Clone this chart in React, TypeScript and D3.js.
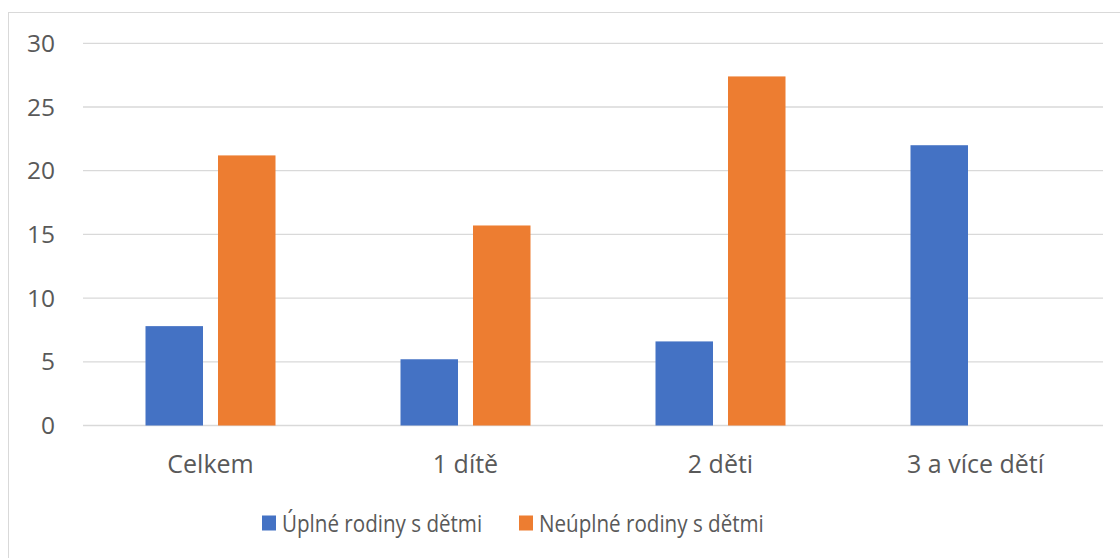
import React from 'react';
import * as d3 from 'd3';

// Categories and series values
const categories = ["Celkem", "1 dítě", "2 děti", "3 a více dětí"];
const seriesNames = ["Úplné rodiny s dětmi", "Neúplné rodiny s dětmi"];
const uplne = [7.8, 5.2, 6.6, 22.0];
const neuplne: (number | null)[] = [21.2, 15.7, 27.4, null];
const yTicks = [0, 5, 10, 15, 20, 25, 30];

const colors = ["#4472C4", "#ED7D31"];
const textColor = "#595959";
const gridColor = "#D9D9D9";
const font = "'Open Sans', 'Noto Sans', sans-serif";

const W = 1120;
const H = 558;
const margin = { top: 43.3, right: 17, bottom: 132.5, left: 83 };

const App = () => {
  const x = d3.scaleBand<string>()
    .domain(categories)
    .range([margin.left, W - margin.right]);

  const y = d3.scaleLinear()
    .domain([0, 30])
    .range([H - margin.bottom, margin.top]);

  const bw = x.bandwidth();
  const groupW = 130;
  const x1 = d3.scaleBand<string>()
    .domain(seriesNames)
    .range([bw / 2 - groupW / 2, bw / 2 + groupW / 2])
    .paddingInner(0.207);

  const seriesValues = [uplne, neuplne];

  return (
    <svg width={W} height={H} style={{ position: 'absolute', left: 0, top: 0, background: '#fff' }}>
      {/* chart border */}
      <rect x={8.5} y={12.5} width={W + 10} height={H + 10} fill="none" stroke={gridColor} strokeWidth={1} />

      {/* gridlines */}
      {yTicks.map(t => (
        <line key={t} x1={margin.left} x2={W - margin.right} y1={y(t)} y2={y(t)}
          stroke={gridColor} strokeWidth={1.3} />
      ))}

      {/* y tick labels */}
      {yTicks.map(t => (
        <text key={t} x={55} y={y(t)} dy="0.35em" textAnchor="end"
          fontFamily={font} fontSize={24.5} fill={textColor}>{t}</text>
      ))}

      {/* bars */}
      {seriesValues.map((vals, si) =>
        vals.map((v, ci) => v == null ? null : (
          <rect key={`${si}-${ci}`}
            x={(x(categories[ci]) ?? 0) + (x1(seriesNames[si]) ?? 0)}
            y={y(v)}
            width={x1.bandwidth()}
            height={y(0) - y(v)}
            fill={colors[si]} />
        ))
      )}

      {/* category labels */}
      {categories.map(c => (
        <text key={c} x={(x(c) ?? 0) + bw / 2} y={473} textAnchor="middle"
          fontFamily={font} fontSize={25} fill={textColor}>{c}</text>
      ))}

      {/* legend */}
      <g>
        <rect x={262} y={515.5} width={14} height={15} fill={colors[0]} />
        <text x={282} y={532} fontFamily={font} fontSize={20.6} fill={textColor}
          transform="translate(0,532) scale(1,1.12) translate(0,-532)">{seriesNames[0]}</text>
        <rect x={519} y={515.5} width={14} height={15} fill={colors[1]} />
        <text x={539} y={532} fontFamily={font} fontSize={20.6} fill={textColor}
          transform="translate(0,532) scale(1,1.12) translate(0,-532)">{seriesNames[1]}</text>
      </g>
    </svg>
  );
};

export default App;
